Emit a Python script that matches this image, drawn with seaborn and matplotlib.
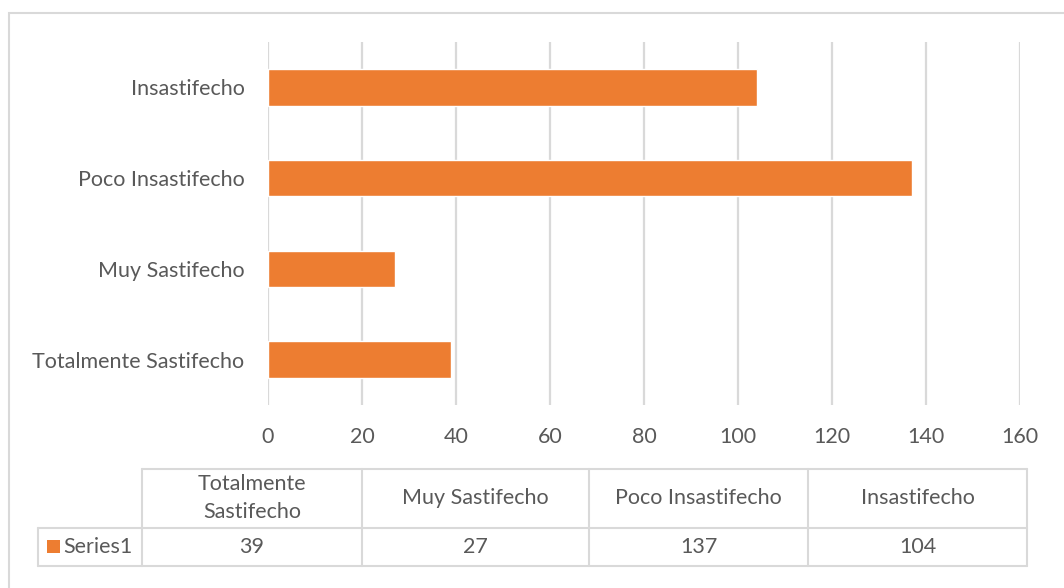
import matplotlib
matplotlib.use("Agg")
import matplotlib.pyplot as plt
from matplotlib.lines import Line2D
from matplotlib.patches import Rectangle
import seaborn as sns

# data (order as in the data table)
categories = ["Totalmente Sastifecho", "Muy Sastifecho", "Poco Insastifecho", "Insastifecho"]
header_labels = ["Totalmente\nSastifecho", "Muy Sastifecho", "Poco Insastifecho", "Insastifecho"]
values = [39, 27, 137, 104]
series_name = "Series1"

W, H = 1064, 588
bar_color = "#ED7D31"
text_color = "#595959"
grid_color = "#D9D9D9"
fs = 15.5

sns.set_theme(style="white")
plt.rcParams["font.family"] = ["Lato", "DejaVu Sans"]

fig = plt.figure(figsize=(W / 100, H / 100), dpi=100)


def fx(x):
    return x / W


def fy(y):
    return 1 - y / H


# chart area border (only top and left visible)
fig.add_artist(Rectangle((fx(9), fy(600)), fx(1100 - 9), fy(13) - fy(600),
                         transform=fig.transFigure, fill=False,
                         edgecolor=grid_color, lw=1.5))

ax = fig.add_axes([fx(268), fy(405), fx(1020) - fx(268), fy(42) - fy(405)])
sns.barplot(x=values, y=categories, order=categories[::-1], orient="h",
            color=bar_color, width=0.4, saturation=1, ax=ax)

ax.set_xlim(0, 160)
ax.set_ylim(3.5, -0.5)
ax.set_xticks(range(0, 161, 20))
ax.xaxis.grid(True, color=grid_color, lw=1.6)
ax.set_axisbelow(True)
for s in ax.spines.values():
    s.set_visible(False)
ax.tick_params(axis="both", length=0, labelsize=fs, colors=text_color)
ax.tick_params(axis="x", pad=16)
ax.tick_params(axis="y", pad=17)
ax.set_xlabel("")
ax.set_ylabel("")

# data table below the chart
col_x = [142, 362, 589, 808, 1027]
row_y = [469, 528, 566]
lkw = dict(transform=fig.transFigure, color=grid_color, lw=1.5)
fig.add_artist(Line2D([fx(142), fx(1027)], [fy(469), fy(469)], **lkw))
fig.add_artist(Line2D([fx(38), fx(1027)], [fy(528), fy(528)], **lkw))
fig.add_artist(Line2D([fx(38), fx(1027)], [fy(566), fy(566)], **lkw))
for x in col_x:
    fig.add_artist(Line2D([fx(x), fx(x)], [fy(469), fy(566)], **lkw))
fig.add_artist(Line2D([fx(38), fx(38)], [fy(528), fy(566)], **lkw))

for i, (lab, v) in enumerate(zip(header_labels, values)):
    cx = (col_x[i] + col_x[i + 1]) / 2
    fig.text(fx(cx), fy((row_y[0] + row_y[1]) / 2), lab, ha="center", va="center",
             fontsize=fs, color=text_color, linespacing=1.5)
    fig.text(fx(cx), fy((row_y[1] + row_y[2]) / 2), str(v), ha="center", va="center",
             fontsize=fs, color=text_color)

fig.add_artist(Rectangle((fx(47), fy(553)), fx(13), fy(540) - fy(553),
                         transform=fig.transFigure, color=bar_color, lw=0))
fig.text(fx(63), fy(547), series_name, ha="left", va="center",
         fontsize=fs, color=text_color)

fig.savefig("out.png", dpi=100)
